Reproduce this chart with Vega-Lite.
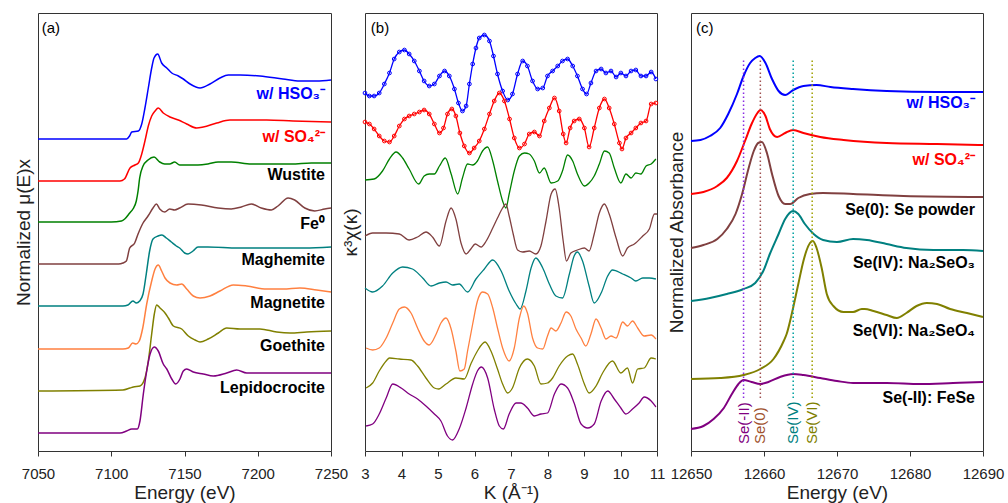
{
  "$schema": "https://vega.github.io/schema/vega-lite/v6.json",
  "padding": {"left": 13, "top": 12, "right": 5, "bottom": 0},
  "bounds": "flush",
  "spacing": 34,
  "config": {
    "font": "Liberation Sans",
    "view": {"stroke": "#333", "strokeWidth": 1},
    "axis": {"grid": false, "domain": false, "labelFont": "Liberation Sans", "titleFont": "Liberation Sans", "labelColor": "#222", "titleColor": "#222", "titleFontWeight": "normal", "titleFontSize": 19, "labelFontSize": 15, "labelBound": false},
    "axisX": {"tickColor": "#333", "tickSize": 5, "labelPadding": 10, "titlePadding": 2, "labelFlush": false},
    "axisY": {"ticks": false, "labels": false, "titlePadding": 5}
  },
  "datasets": {
    "fe": [
      {"s":"HSO3","x":7050,"y":3.12},{"s":"HSO3","x":7080,"y":3.12},{"s":"HSO3","x":7105,"y":3.12},{"s":"HSO3","x":7110.5,"y":3.12},{"s":"HSO3","x":7112.5,"y":3.15},{"s":"HSO3","x":7114,"y":3.19},{"s":"HSO3","x":7118.5,"y":3.2},{"s":"HSO3","x":7120.8,"y":3.27},{"s":"HSO3","x":7123,"y":3.43},{"s":"HSO3","x":7125.3,"y":3.63},{"s":"HSO3","x":7127.6,"y":3.83},{"s":"HSO3","x":7129.2,"y":3.93},{"s":"HSO3","x":7131.7,"y":3.97},{"s":"HSO3","x":7134.4,"y":3.88},{"s":"HSO3","x":7137.9,"y":3.83},{"s":"HSO3","x":7141.3,"y":3.78},{"s":"HSO3","x":7145.8,"y":3.75},{"s":"HSO3","x":7149.2,"y":3.72},{"s":"HSO3","x":7153.8,"y":3.67},{"s":"HSO3","x":7160.6,"y":3.63},{"s":"HSO3","x":7167.4,"y":3.67},{"s":"HSO3","x":7174.2,"y":3.73},{"s":"HSO3","x":7179.9,"y":3.76},{"s":"HSO3","x":7187.9,"y":3.76},{"s":"HSO3","x":7201.5,"y":3.75},{"s":"HSO3","x":7217.2,"y":3.72},{"s":"HSO3","x":7228.8,"y":3.7},{"s":"HSO3","x":7240.2,"y":3.7},{"s":"HSO3","x":7250,"y":3.71},
      {"s":"SO4","x":7050,"y":2.7},{"s":"SO4","x":7106,"y":2.7},{"s":"SO4","x":7109,"y":2.72},{"s":"SO4","x":7112.8,"y":2.83},{"s":"SO4","x":7116.2,"y":2.86},{"s":"SO4","x":7118.5,"y":2.88},{"s":"SO4","x":7120.8,"y":2.97},{"s":"SO4","x":7123,"y":3.1},{"s":"SO4","x":7125.3,"y":3.25},{"s":"SO4","x":7127.6,"y":3.35},{"s":"SO4","x":7129.9,"y":3.4},{"s":"SO4","x":7132.1,"y":3.43},{"s":"SO4","x":7135.5,"y":3.38},{"s":"SO4","x":7140.1,"y":3.34},{"s":"SO4","x":7145.8,"y":3.31},{"s":"SO4","x":7151.5,"y":3.27},{"s":"SO4","x":7158.3,"y":3.23},{"s":"SO4","x":7162.8,"y":3.24},{"s":"SO4","x":7172,"y":3.28},{"s":"SO4","x":7181,"y":3.31},{"s":"SO4","x":7187.9,"y":3.31},{"s":"SO4","x":7206.1,"y":3.31},{"s":"SO4","x":7224.1,"y":3.3},{"s":"SO4","x":7250,"y":3.29},
      {"s":"Wustite","x":7050,"y":2.29},{"s":"Wustite","x":7100,"y":2.29},{"s":"Wustite","x":7107,"y":2.3},{"s":"Wustite","x":7109.2,"y":2.32},{"s":"Wustite","x":7112.6,"y":2.38},{"s":"Wustite","x":7114.8,"y":2.42},{"s":"Wustite","x":7117.1,"y":2.5},{"s":"Wustite","x":7118.3,"y":2.6},{"s":"Wustite","x":7119.4,"y":2.73},{"s":"Wustite","x":7121.7,"y":2.85},{"s":"Wustite","x":7125.1,"y":2.91},{"s":"Wustite","x":7129.2,"y":2.94},{"s":"Wustite","x":7133.1,"y":2.89},{"s":"Wustite","x":7136.5,"y":2.87},{"s":"Wustite","x":7139.9,"y":2.87},{"s":"Wustite","x":7143.3,"y":2.89},{"s":"Wustite","x":7146.7,"y":2.86},{"s":"Wustite","x":7152.4,"y":2.86},{"s":"Wustite","x":7159.2,"y":2.86},{"s":"Wustite","x":7166,"y":2.87},{"s":"Wustite","x":7172.9,"y":2.89},{"s":"Wustite","x":7181.9,"y":2.89},{"s":"Wustite","x":7195.6,"y":2.87},{"s":"Wustite","x":7209.3,"y":2.87},{"s":"Wustite","x":7222.9,"y":2.87},{"s":"Wustite","x":7236.6,"y":2.88},{"s":"Wustite","x":7250,"y":2.88},
      {"s":"Fe0","x":7050,"y":1.87},{"s":"Fe0","x":7105,"y":1.87},{"s":"Fe0","x":7108,"y":1.88},{"s":"Fe0","x":7110.3,"y":1.9},{"s":"Fe0","x":7112.6,"y":2.03},{"s":"Fe0","x":7116,"y":2.08},{"s":"Fe0","x":7118.3,"y":2.17},{"s":"Fe0","x":7121.7,"y":2.28},{"s":"Fe0","x":7125.1,"y":2.35},{"s":"Fe0","x":7128.5,"y":2.43},{"s":"Fe0","x":7130.8,"y":2.47},{"s":"Fe0","x":7133.1,"y":2.42},{"s":"Fe0","x":7136.5,"y":2.39},{"s":"Fe0","x":7139.9,"y":2.42},{"s":"Fe0","x":7143.3,"y":2.41},{"s":"Fe0","x":7146.7,"y":2.43},{"s":"Fe0","x":7152.4,"y":2.47},{"s":"Fe0","x":7161.5,"y":2.46},{"s":"Fe0","x":7172.9,"y":2.43},{"s":"Fe0","x":7181.9,"y":2.42},{"s":"Fe0","x":7188.8,"y":2.44},{"s":"Fe0","x":7195.6,"y":2.47},{"s":"Fe0","x":7202.4,"y":2.43},{"s":"Fe0","x":7209.3,"y":2.41},{"s":"Fe0","x":7213.8,"y":2.45},{"s":"Fe0","x":7220.7,"y":2.53},{"s":"Fe0","x":7225.2,"y":2.51},{"s":"Fe0","x":7232.1,"y":2.43},{"s":"Fe0","x":7238.9,"y":2.4},{"s":"Fe0","x":7245.7,"y":2.42},{"s":"Fe0","x":7250,"y":2.43},
      {"s":"Maghemite","x":7050,"y":1.45},{"s":"Maghemite","x":7108,"y":1.45},{"s":"Maghemite","x":7111.4,"y":1.46},{"s":"Maghemite","x":7114.8,"y":1.5},{"s":"Maghemite","x":7117.1,"y":1.48},{"s":"Maghemite","x":7119.4,"y":1.5},{"s":"Maghemite","x":7121.7,"y":1.57},{"s":"Maghemite","x":7123.9,"y":1.77},{"s":"Maghemite","x":7126.2,"y":2.0},{"s":"Maghemite","x":7128.5,"y":2.12},{"s":"Maghemite","x":7131.9,"y":2.15},{"s":"Maghemite","x":7134.6,"y":2.16},{"s":"Maghemite","x":7137.6,"y":2.13},{"s":"Maghemite","x":7141,"y":2.09},{"s":"Maghemite","x":7144.4,"y":2.05},{"s":"Maghemite","x":7146.7,"y":2.03},{"s":"Maghemite","x":7150.1,"y":1.98},{"s":"Maghemite","x":7152.4,"y":1.97},{"s":"Maghemite","x":7155.8,"y":2.0},{"s":"Maghemite","x":7159.2,"y":2.04},{"s":"Maghemite","x":7166,"y":2.04},{"s":"Maghemite","x":7186.5,"y":2.03},{"s":"Maghemite","x":7209.3,"y":2.03},{"s":"Maghemite","x":7232.1,"y":2.03},{"s":"Maghemite","x":7250,"y":2.04},
      {"s":"Magnetite","x":7050,"y":1.02},{"s":"Magnetite","x":7108,"y":1.02},{"s":"Magnetite","x":7111.6,"y":1.03},{"s":"Magnetite","x":7114.6,"y":1.08},{"s":"Magnetite","x":7116.9,"y":1.07},{"s":"Magnetite","x":7119.1,"y":1.1},{"s":"Magnetite","x":7121.5,"y":1.23},{"s":"Magnetite","x":7124.2,"y":1.47},{"s":"Magnetite","x":7127.6,"y":1.7},{"s":"Magnetite","x":7129.9,"y":1.82},{"s":"Magnetite","x":7132.1,"y":1.86},{"s":"Magnetite","x":7134.4,"y":1.8},{"s":"Magnetite","x":7136.7,"y":1.73},{"s":"Magnetite","x":7140.1,"y":1.68},{"s":"Magnetite","x":7144.7,"y":1.66},{"s":"Magnetite","x":7148.1,"y":1.67},{"s":"Magnetite","x":7151.5,"y":1.62},{"s":"Magnetite","x":7156,"y":1.55},{"s":"Magnetite","x":7160.6,"y":1.53},{"s":"Magnetite","x":7167.4,"y":1.55},{"s":"Magnetite","x":7174.2,"y":1.6},{"s":"Magnetite","x":7183.3,"y":1.66},{"s":"Magnetite","x":7192.5,"y":1.65},{"s":"Magnetite","x":7206.1,"y":1.62},{"s":"Magnetite","x":7217.4,"y":1.62},{"s":"Magnetite","x":7228.8,"y":1.63},{"s":"Magnetite","x":7240.2,"y":1.61},{"s":"Magnetite","x":7250,"y":1.59},
      {"s":"Goethite","x":7050,"y":0.6},{"s":"Goethite","x":7108,"y":0.61},{"s":"Goethite","x":7112.8,"y":0.63},{"s":"Goethite","x":7115.1,"y":0.64},{"s":"Goethite","x":7119.6,"y":0.65},{"s":"Goethite","x":7123,"y":0.73},{"s":"Goethite","x":7125.3,"y":0.9},{"s":"Goethite","x":7127.6,"y":1.17},{"s":"Goethite","x":7129.4,"y":1.37},{"s":"Goethite","x":7131,"y":1.46},{"s":"Goethite","x":7133.3,"y":1.43},{"s":"Goethite","x":7136.7,"y":1.38},{"s":"Goethite","x":7139,"y":1.33},{"s":"Goethite","x":7142.4,"y":1.25},{"s":"Goethite","x":7148.1,"y":1.22},{"s":"Goethite","x":7152.6,"y":1.15},{"s":"Goethite","x":7157.2,"y":1.11},{"s":"Goethite","x":7160.6,"y":1.09},{"s":"Goethite","x":7166.2,"y":1.12},{"s":"Goethite","x":7173.1,"y":1.18},{"s":"Goethite","x":7178.8,"y":1.23},{"s":"Goethite","x":7187.9,"y":1.22},{"s":"Goethite","x":7201.5,"y":1.22},{"s":"Goethite","x":7212.9,"y":1.19},{"s":"Goethite","x":7222,"y":1.18},{"s":"Goethite","x":7233.4,"y":1.19},{"s":"Goethite","x":7250,"y":1.2},
      {"s":"Lepidocrocite","x":7050,"y":0.18},{"s":"Lepidocrocite","x":7106,"y":0.18},{"s":"Lepidocrocite","x":7110.5,"y":0.2},{"s":"Lepidocrocite","x":7114,"y":0.22},{"s":"Lepidocrocite","x":7117.8,"y":0.22},{"s":"Lepidocrocite","x":7119.6,"y":0.3},{"s":"Lepidocrocite","x":7121.9,"y":0.57},{"s":"Lepidocrocite","x":7124.2,"y":0.8},{"s":"Lepidocrocite","x":7126.5,"y":0.97},{"s":"Lepidocrocite","x":7129.4,"y":1.04},{"s":"Lepidocrocite","x":7132.1,"y":1.0},{"s":"Lepidocrocite","x":7135.5,"y":0.87},{"s":"Lepidocrocite","x":7137.9,"y":0.82},{"s":"Lepidocrocite","x":7141.3,"y":0.72},{"s":"Lepidocrocite","x":7144,"y":0.67},{"s":"Lepidocrocite","x":7146.9,"y":0.72},{"s":"Lepidocrocite","x":7149.2,"y":0.8},{"s":"Lepidocrocite","x":7151.5,"y":0.82},{"s":"Lepidocrocite","x":7156,"y":0.79},{"s":"Lepidocrocite","x":7162.8,"y":0.77},{"s":"Lepidocrocite","x":7169.7,"y":0.75},{"s":"Lepidocrocite","x":7178.8,"y":0.78},{"s":"Lepidocrocite","x":7185.6,"y":0.81},{"s":"Lepidocrocite","x":7192.5,"y":0.78},{"s":"Lepidocrocite","x":7206.1,"y":0.78},{"s":"Lepidocrocite","x":7228.8,"y":0.78},{"s":"Lepidocrocite","x":7250,"y":0.78}
    ],
    "exafs": [
      {"s":"HSO3","x":3.0,"y":3.58},{"s":"HSO3","x":3.12,"y":3.55},{"s":"HSO3","x":3.25,"y":3.55},{"s":"HSO3","x":3.39,"y":3.58},{"s":"HSO3","x":3.53,"y":3.67},{"s":"HSO3","x":3.67,"y":3.78},{"s":"HSO3","x":3.8,"y":3.92},{"s":"HSO3","x":3.94,"y":3.99},{"s":"HSO3","x":4.08,"y":4.01},{"s":"HSO3","x":4.21,"y":3.97},{"s":"HSO3","x":4.35,"y":3.9},{"s":"HSO3","x":4.49,"y":3.8},{"s":"HSO3","x":4.62,"y":3.7},{"s":"HSO3","x":4.76,"y":3.65},{"s":"HSO3","x":4.9,"y":3.67},{"s":"HSO3","x":5.04,"y":3.75},{"s":"HSO3","x":5.18,"y":3.8},{"s":"HSO3","x":5.31,"y":3.75},{"s":"HSO3","x":5.45,"y":3.62},{"s":"HSO3","x":5.56,"y":3.48},{"s":"HSO3","x":5.67,"y":3.4},{"s":"HSO3","x":5.77,"y":3.45},{"s":"HSO3","x":5.86,"y":3.67},{"s":"HSO3","x":5.95,"y":3.87},{"s":"HSO3","x":6.04,"y":4.03},{"s":"HSO3","x":6.13,"y":4.13},{"s":"HSO3","x":6.27,"y":4.16},{"s":"HSO3","x":6.41,"y":4.1},{"s":"HSO3","x":6.52,"y":3.95},{"s":"HSO3","x":6.63,"y":3.77},{"s":"HSO3","x":6.77,"y":3.6},{"s":"HSO3","x":6.91,"y":3.51},{"s":"HSO3","x":7.04,"y":3.57},{"s":"HSO3","x":7.18,"y":3.77},{"s":"HSO3","x":7.32,"y":3.9},{"s":"HSO3","x":7.45,"y":3.85},{"s":"HSO3","x":7.59,"y":3.7},{"s":"HSO3","x":7.73,"y":3.62},{"s":"HSO3","x":7.87,"y":3.63},{"s":"HSO3","x":8.0,"y":3.75},{"s":"HSO3","x":8.14,"y":3.8},{"s":"HSO3","x":8.28,"y":3.85},{"s":"HSO3","x":8.41,"y":3.9},{"s":"HSO3","x":8.55,"y":3.92},{"s":"HSO3","x":8.69,"y":3.85},{"s":"HSO3","x":8.82,"y":3.75},{"s":"HSO3","x":8.96,"y":3.62},{"s":"HSO3","x":9.07,"y":3.57},{"s":"HSO3","x":9.19,"y":3.68},{"s":"HSO3","x":9.33,"y":3.8},{"s":"HSO3","x":9.47,"y":3.82},{"s":"HSO3","x":9.6,"y":3.78},{"s":"HSO3","x":9.74,"y":3.8},{"s":"HSO3","x":9.88,"y":3.74},{"s":"HSO3","x":10.01,"y":3.78},{"s":"HSO3","x":10.15,"y":3.75},{"s":"HSO3","x":10.29,"y":3.8},{"s":"HSO3","x":10.42,"y":3.81},{"s":"HSO3","x":10.56,"y":3.75},{"s":"HSO3","x":10.7,"y":3.75},{"s":"HSO3","x":10.84,"y":3.79},{"s":"HSO3","x":10.97,"y":3.72},
      {"s":"SO4","x":3.0,"y":3.29},{"s":"SO4","x":3.12,"y":3.27},{"s":"SO4","x":3.25,"y":3.22},{"s":"SO4","x":3.39,"y":3.15},{"s":"SO4","x":3.53,"y":3.1},{"s":"SO4","x":3.67,"y":3.09},{"s":"SO4","x":3.8,"y":3.15},{"s":"SO4","x":3.94,"y":3.25},{"s":"SO4","x":4.08,"y":3.32},{"s":"SO4","x":4.21,"y":3.35},{"s":"SO4","x":4.35,"y":3.37},{"s":"SO4","x":4.49,"y":3.39},{"s":"SO4","x":4.62,"y":3.41},{"s":"SO4","x":4.76,"y":3.37},{"s":"SO4","x":4.9,"y":3.27},{"s":"SO4","x":5.04,"y":3.18},{"s":"SO4","x":5.15,"y":3.23},{"s":"SO4","x":5.26,"y":3.37},{"s":"SO4","x":5.38,"y":3.42},{"s":"SO4","x":5.49,"y":3.35},{"s":"SO4","x":5.6,"y":3.18},{"s":"SO4","x":5.72,"y":3.05},{"s":"SO4","x":5.86,"y":2.98},{"s":"SO4","x":5.99,"y":3.03},{"s":"SO4","x":6.13,"y":3.1},{"s":"SO4","x":6.27,"y":3.22},{"s":"SO4","x":6.41,"y":3.37},{"s":"SO4","x":6.54,"y":3.5},{"s":"SO4","x":6.68,"y":3.58},{"s":"SO4","x":6.82,"y":3.5},{"s":"SO4","x":6.96,"y":3.32},{"s":"SO4","x":7.09,"y":3.13},{"s":"SO4","x":7.23,"y":3.03},{"s":"SO4","x":7.37,"y":3.07},{"s":"SO4","x":7.5,"y":3.17},{"s":"SO4","x":7.64,"y":3.19},{"s":"SO4","x":7.78,"y":3.15},{"s":"SO4","x":7.91,"y":3.3},{"s":"SO4","x":8.05,"y":3.43},{"s":"SO4","x":8.19,"y":3.53},{"s":"SO4","x":8.32,"y":3.4},{"s":"SO4","x":8.43,"y":3.17},{"s":"SO4","x":8.51,"y":3.08},{"s":"SO4","x":8.62,"y":3.23},{"s":"SO4","x":8.73,"y":3.3},{"s":"SO4","x":8.87,"y":3.32},{"s":"SO4","x":9.01,"y":3.23},{"s":"SO4","x":9.14,"y":3.04},{"s":"SO4","x":9.28,"y":3.23},{"s":"SO4","x":9.42,"y":3.43},{"s":"SO4","x":9.56,"y":3.52},{"s":"SO4","x":9.69,"y":3.43},{"s":"SO4","x":9.83,"y":3.27},{"s":"SO4","x":9.97,"y":3.08},{"s":"SO4","x":10.04,"y":3.02},{"s":"SO4","x":10.15,"y":3.13},{"s":"SO4","x":10.29,"y":3.18},{"s":"SO4","x":10.42,"y":3.23},{"s":"SO4","x":10.56,"y":3.28},{"s":"SO4","x":10.7,"y":3.3},{"s":"SO4","x":10.84,"y":3.47},{"s":"SO4","x":10.97,"y":3.48},
      {"s":"Wustite","x":3.0,"y":2.71},{"s":"Wustite","x":3.25,"y":2.72},{"s":"Wustite","x":3.48,"y":2.8},{"s":"Wustite","x":3.67,"y":2.92},{"s":"Wustite","x":3.85,"y":2.99},{"s":"Wustite","x":4.03,"y":2.93},{"s":"Wustite","x":4.21,"y":2.82},{"s":"Wustite","x":4.47,"y":2.67},{"s":"Wustite","x":4.62,"y":2.75},{"s":"Wustite","x":4.76,"y":2.77},{"s":"Wustite","x":4.9,"y":2.77},{"s":"Wustite","x":5.04,"y":2.85},{"s":"Wustite","x":5.2,"y":2.93},{"s":"Wustite","x":5.36,"y":2.77},{"s":"Wustite","x":5.54,"y":2.57},{"s":"Wustite","x":5.67,"y":2.73},{"s":"Wustite","x":5.81,"y":2.87},{"s":"Wustite","x":5.95,"y":2.86},{"s":"Wustite","x":6.08,"y":2.9},{"s":"Wustite","x":6.22,"y":3.0},{"s":"Wustite","x":6.36,"y":3.04},{"s":"Wustite","x":6.5,"y":2.9},{"s":"Wustite","x":6.63,"y":2.7},{"s":"Wustite","x":6.77,"y":2.5},{"s":"Wustite","x":6.86,"y":2.43},{"s":"Wustite","x":6.95,"y":2.57},{"s":"Wustite","x":7.09,"y":2.8},{"s":"Wustite","x":7.23,"y":2.95},{"s":"Wustite","x":7.37,"y":2.98},{"s":"Wustite","x":7.5,"y":2.97},{"s":"Wustite","x":7.64,"y":2.9},{"s":"Wustite","x":7.78,"y":2.78},{"s":"Wustite","x":7.91,"y":2.83},{"s":"Wustite","x":8.1,"y":2.68},{"s":"Wustite","x":8.28,"y":2.7},{"s":"Wustite","x":8.41,"y":2.8},{"s":"Wustite","x":8.55,"y":2.96},{"s":"Wustite","x":8.69,"y":2.9},{"s":"Wustite","x":8.82,"y":2.77},{"s":"Wustite","x":9.01,"y":2.65},{"s":"Wustite","x":9.14,"y":2.68},{"s":"Wustite","x":9.28,"y":2.75},{"s":"Wustite","x":9.42,"y":2.87},{"s":"Wustite","x":9.56,"y":3.0},{"s":"Wustite","x":9.69,"y":2.98},{"s":"Wustite","x":9.83,"y":2.83},{"s":"Wustite","x":10.01,"y":2.68},{"s":"Wustite","x":10.15,"y":2.77},{"s":"Wustite","x":10.29,"y":2.73},{"s":"Wustite","x":10.42,"y":2.78},{"s":"Wustite","x":10.56,"y":2.77},{"s":"Wustite","x":10.7,"y":2.85},{"s":"Wustite","x":10.84,"y":2.87},{"s":"Wustite","x":10.97,"y":2.92},
      {"s":"Fe0","x":3.0,"y":2.15},{"s":"Fe0","x":3.21,"y":2.18},{"s":"Fe0","x":3.58,"y":2.18},{"s":"Fe0","x":3.94,"y":2.17},{"s":"Fe0","x":4.21,"y":2.11},{"s":"Fe0","x":4.44,"y":2.14},{"s":"Fe0","x":4.67,"y":2.19},{"s":"Fe0","x":4.85,"y":2.14},{"s":"Fe0","x":5.04,"y":2.05},{"s":"Fe0","x":5.22,"y":2.3},{"s":"Fe0","x":5.36,"y":2.43},{"s":"Fe0","x":5.49,"y":2.32},{"s":"Fe0","x":5.63,"y":2.08},{"s":"Fe0","x":5.77,"y":1.97},{"s":"Fe0","x":5.9,"y":2.02},{"s":"Fe0","x":6.02,"y":2.07},{"s":"Fe0","x":6.18,"y":2.04},{"s":"Fe0","x":6.32,"y":2.1},{"s":"Fe0","x":6.5,"y":2.23},{"s":"Fe0","x":6.63,"y":2.33},{"s":"Fe0","x":6.77,"y":2.43},{"s":"Fe0","x":6.86,"y":2.47},{"s":"Fe0","x":6.95,"y":2.35},{"s":"Fe0","x":7.06,"y":2.17},{"s":"Fe0","x":7.18,"y":2.01},{"s":"Fe0","x":7.32,"y":1.99},{"s":"Fe0","x":7.5,"y":2.0},{"s":"Fe0","x":7.68,"y":1.97},{"s":"Fe0","x":7.82,"y":2.05},{"s":"Fe0","x":7.96,"y":2.3},{"s":"Fe0","x":8.1,"y":2.57},{"s":"Fe0","x":8.21,"y":2.62},{"s":"Fe0","x":8.32,"y":2.43},{"s":"Fe0","x":8.43,"y":2.1},{"s":"Fe0","x":8.52,"y":1.9},{"s":"Fe0","x":8.64,"y":1.98},{"s":"Fe0","x":8.82,"y":2.01},{"s":"Fe0","x":9.01,"y":2.03},{"s":"Fe0","x":9.14,"y":2.0},{"s":"Fe0","x":9.28,"y":2.17},{"s":"Fe0","x":9.42,"y":2.38},{"s":"Fe0","x":9.56,"y":2.47},{"s":"Fe0","x":9.69,"y":2.37},{"s":"Fe0","x":9.88,"y":2.13},{"s":"Fe0","x":10.06,"y":1.95},{"s":"Fe0","x":10.19,"y":2.03},{"s":"Fe0","x":10.38,"y":2.07},{"s":"Fe0","x":10.61,"y":2.15},{"s":"Fe0","x":10.79,"y":2.22},{"s":"Fe0","x":10.93,"y":2.37},{"s":"Fe0","x":11.0,"y":2.37},
      {"s":"Maghemite","x":3.0,"y":1.63},{"s":"Maghemite","x":3.21,"y":1.59},{"s":"Maghemite","x":3.48,"y":1.65},{"s":"Maghemite","x":3.76,"y":1.78},{"s":"Maghemite","x":4.03,"y":1.84},{"s":"Maghemite","x":4.3,"y":1.82},{"s":"Maghemite","x":4.58,"y":1.73},{"s":"Maghemite","x":4.81,"y":1.65},{"s":"Maghemite","x":5.04,"y":1.68},{"s":"Maghemite","x":5.22,"y":1.69},{"s":"Maghemite","x":5.4,"y":1.66},{"s":"Maghemite","x":5.58,"y":1.67},{"s":"Maghemite","x":5.81,"y":1.59},{"s":"Maghemite","x":6.04,"y":1.72},{"s":"Maghemite","x":6.27,"y":1.82},{"s":"Maghemite","x":6.5,"y":1.91},{"s":"Maghemite","x":6.73,"y":1.8},{"s":"Maghemite","x":6.95,"y":1.6},{"s":"Maghemite","x":7.14,"y":1.47},{"s":"Maghemite","x":7.25,"y":1.42},{"s":"Maghemite","x":7.41,"y":1.6},{"s":"Maghemite","x":7.55,"y":1.83},{"s":"Maghemite","x":7.68,"y":1.93},{"s":"Maghemite","x":7.87,"y":1.83},{"s":"Maghemite","x":8.05,"y":1.67},{"s":"Maghemite","x":8.23,"y":1.55},{"s":"Maghemite","x":8.41,"y":1.53},{"s":"Maghemite","x":8.6,"y":1.77},{"s":"Maghemite","x":8.73,"y":1.95},{"s":"Maghemite","x":8.82,"y":1.99},{"s":"Maghemite","x":8.96,"y":1.9},{"s":"Maghemite","x":9.14,"y":1.65},{"s":"Maghemite","x":9.28,"y":1.48},{"s":"Maghemite","x":9.47,"y":1.58},{"s":"Maghemite","x":9.65,"y":1.75},{"s":"Maghemite","x":9.78,"y":1.81},{"s":"Maghemite","x":10.06,"y":1.77},{"s":"Maghemite","x":10.29,"y":1.73},{"s":"Maghemite","x":10.42,"y":1.7},{"s":"Maghemite","x":10.61,"y":1.73},{"s":"Maghemite","x":10.79,"y":1.73},{"s":"Maghemite","x":10.97,"y":1.72},
      {"s":"Magnetite","x":3.03,"y":1.03},{"s":"Magnetite","x":3.21,"y":1.01},{"s":"Magnetite","x":3.39,"y":1.03},{"s":"Magnetite","x":3.58,"y":1.13},{"s":"Magnetite","x":3.76,"y":1.28},{"s":"Magnetite","x":3.94,"y":1.42},{"s":"Magnetite","x":4.08,"y":1.44},{"s":"Magnetite","x":4.26,"y":1.38},{"s":"Magnetite","x":4.44,"y":1.23},{"s":"Magnetite","x":4.62,"y":1.1},{"s":"Magnetite","x":4.76,"y":1.06},{"s":"Magnetite","x":4.95,"y":1.17},{"s":"Magnetite","x":5.08,"y":1.28},{"s":"Magnetite","x":5.22,"y":1.33},{"s":"Magnetite","x":5.36,"y":1.22},{"s":"Magnetite","x":5.49,"y":1.0},{"s":"Magnetite","x":5.6,"y":0.8},{"s":"Magnetite","x":5.72,"y":0.82},{"s":"Magnetite","x":5.81,"y":1.0},{"s":"Magnetite","x":5.95,"y":1.27},{"s":"Magnetite","x":6.08,"y":1.5},{"s":"Magnetite","x":6.22,"y":1.59},{"s":"Magnetite","x":6.36,"y":1.57},{"s":"Magnetite","x":6.5,"y":1.43},{"s":"Magnetite","x":6.63,"y":1.23},{"s":"Magnetite","x":6.77,"y":1.03},{"s":"Magnetite","x":6.95,"y":0.9},{"s":"Magnetite","x":7.09,"y":1.03},{"s":"Magnetite","x":7.23,"y":1.33},{"s":"Magnetite","x":7.35,"y":1.45},{"s":"Magnetite","x":7.45,"y":1.38},{"s":"Magnetite","x":7.59,"y":1.13},{"s":"Magnetite","x":7.73,"y":1.03},{"s":"Magnetite","x":7.87,"y":1.02},{"s":"Magnetite","x":8.0,"y":1.15},{"s":"Magnetite","x":8.1,"y":1.23},{"s":"Magnetite","x":8.23,"y":1.2},{"s":"Magnetite","x":8.37,"y":1.28},{"s":"Magnetite","x":8.51,"y":1.39},{"s":"Magnetite","x":8.64,"y":1.35},{"s":"Magnetite","x":8.78,"y":1.22},{"s":"Magnetite","x":8.92,"y":1.13},{"s":"Magnetite","x":9.05,"y":1.05},{"s":"Magnetite","x":9.19,"y":1.17},{"s":"Magnetite","x":9.33,"y":1.32},{"s":"Magnetite","x":9.47,"y":1.23},{"s":"Magnetite","x":9.6,"y":1.12},{"s":"Magnetite","x":9.74,"y":1.15},{"s":"Magnetite","x":9.88,"y":1.13},{"s":"Magnetite","x":10.06,"y":1.29},{"s":"Magnetite","x":10.19,"y":1.25},{"s":"Magnetite","x":10.33,"y":1.3},{"s":"Magnetite","x":10.47,"y":1.23},{"s":"Magnetite","x":10.65,"y":1.15},{"s":"Magnetite","x":10.84,"y":1.16},{"s":"Magnetite","x":10.97,"y":1.12},
      {"s":"Goethite","x":3.03,"y":0.63},{"s":"Goethite","x":3.21,"y":0.68},{"s":"Goethite","x":3.39,"y":0.8},{"s":"Goethite","x":3.58,"y":0.9},{"s":"Goethite","x":3.67,"y":0.93},{"s":"Goethite","x":3.94,"y":0.92},{"s":"Goethite","x":4.26,"y":0.91},{"s":"Goethite","x":4.44,"y":0.85},{"s":"Goethite","x":4.67,"y":0.73},{"s":"Goethite","x":4.9,"y":0.63},{"s":"Goethite","x":5.02,"y":0.62},{"s":"Goethite","x":5.22,"y":0.67},{"s":"Goethite","x":5.49,"y":0.73},{"s":"Goethite","x":5.72,"y":0.72},{"s":"Goethite","x":5.9,"y":0.87},{"s":"Goethite","x":6.08,"y":1.0},{"s":"Goethite","x":6.29,"y":1.09},{"s":"Goethite","x":6.45,"y":1.0},{"s":"Goethite","x":6.63,"y":0.82},{"s":"Goethite","x":6.77,"y":0.67},{"s":"Goethite","x":6.91,"y":0.58},{"s":"Goethite","x":7.04,"y":0.63},{"s":"Goethite","x":7.23,"y":0.83},{"s":"Goethite","x":7.45,"y":0.92},{"s":"Goethite","x":7.64,"y":0.85},{"s":"Goethite","x":7.82,"y":0.67},{"s":"Goethite","x":8.0,"y":0.68},{"s":"Goethite","x":8.14,"y":0.73},{"s":"Goethite","x":8.32,"y":0.85},{"s":"Goethite","x":8.55,"y":0.95},{"s":"Goethite","x":8.69,"y":0.97},{"s":"Goethite","x":8.82,"y":0.87},{"s":"Goethite","x":9.01,"y":0.67},{"s":"Goethite","x":9.14,"y":0.58},{"s":"Goethite","x":9.33,"y":0.65},{"s":"Goethite","x":9.51,"y":0.78},{"s":"Goethite","x":9.78,"y":0.9},{"s":"Goethite","x":10.01,"y":0.78},{"s":"Goethite","x":10.19,"y":0.83},{"s":"Goethite","x":10.33,"y":0.68},{"s":"Goethite","x":10.47,"y":0.82},{"s":"Goethite","x":10.65,"y":0.83},{"s":"Goethite","x":10.84,"y":0.93},{"s":"Goethite","x":10.97,"y":0.92},
      {"s":"Lepidocrocite","x":3.03,"y":0.25},{"s":"Lepidocrocite","x":3.21,"y":0.27},{"s":"Lepidocrocite","x":3.39,"y":0.37},{"s":"Lepidocrocite","x":3.58,"y":0.53},{"s":"Lepidocrocite","x":3.76,"y":0.67},{"s":"Lepidocrocite","x":3.99,"y":0.63},{"s":"Lepidocrocite","x":4.21,"y":0.57},{"s":"Lepidocrocite","x":4.44,"y":0.52},{"s":"Lepidocrocite","x":4.67,"y":0.45},{"s":"Lepidocrocite","x":4.9,"y":0.37},{"s":"Lepidocrocite","x":5.08,"y":0.3},{"s":"Lepidocrocite","x":5.26,"y":0.15},{"s":"Lepidocrocite","x":5.4,"y":0.11},{"s":"Lepidocrocite","x":5.58,"y":0.22},{"s":"Lepidocrocite","x":5.77,"y":0.43},{"s":"Lepidocrocite","x":5.95,"y":0.67},{"s":"Lepidocrocite","x":6.08,"y":0.8},{"s":"Lepidocrocite","x":6.19,"y":0.84},{"s":"Lepidocrocite","x":6.36,"y":0.73},{"s":"Lepidocrocite","x":6.54,"y":0.42},{"s":"Lepidocrocite","x":6.68,"y":0.25},{"s":"Lepidocrocite","x":6.79,"y":0.22},{"s":"Lepidocrocite","x":6.95,"y":0.37},{"s":"Lepidocrocite","x":7.14,"y":0.48},{"s":"Lepidocrocite","x":7.27,"y":0.48},{"s":"Lepidocrocite","x":7.45,"y":0.43},{"s":"Lepidocrocite","x":7.64,"y":0.35},{"s":"Lepidocrocite","x":7.82,"y":0.37},{"s":"Lepidocrocite","x":8.0,"y":0.38},{"s":"Lepidocrocite","x":8.19,"y":0.57},{"s":"Lepidocrocite","x":8.37,"y":0.67},{"s":"Lepidocrocite","x":8.55,"y":0.63},{"s":"Lepidocrocite","x":8.73,"y":0.48},{"s":"Lepidocrocite","x":8.92,"y":0.27},{"s":"Lepidocrocite","x":9.1,"y":0.23},{"s":"Lepidocrocite","x":9.28,"y":0.27},{"s":"Lepidocrocite","x":9.47,"y":0.5},{"s":"Lepidocrocite","x":9.65,"y":0.6},{"s":"Lepidocrocite","x":9.83,"y":0.52},{"s":"Lepidocrocite","x":10.01,"y":0.43},{"s":"Lepidocrocite","x":10.15,"y":0.37},{"s":"Lepidocrocite","x":10.33,"y":0.42},{"s":"Lepidocrocite","x":10.51,"y":0.48},{"s":"Lepidocrocite","x":10.65,"y":0.54},{"s":"Lepidocrocite","x":10.84,"y":0.5},{"s":"Lepidocrocite","x":10.97,"y":0.44}
    ],
    "se": [
      {"s":"HSO3","x":12650,"y":3.1},{"s":"HSO3","x":12651.3,"y":3.11},{"s":"HSO3","x":12652.6,"y":3.15},{"s":"HSO3","x":12654,"y":3.23},{"s":"HSO3","x":12655.1,"y":3.37},{"s":"HSO3","x":12656.3,"y":3.57},{"s":"HSO3","x":12657.2,"y":3.75},{"s":"HSO3","x":12658.1,"y":3.88},{"s":"HSO3","x":12658.8,"y":3.93},{"s":"HSO3","x":12659.4,"y":3.95},{"s":"HSO3","x":12660.2,"y":3.88},{"s":"HSO3","x":12661.1,"y":3.72},{"s":"HSO3","x":12662,"y":3.6},{"s":"HSO3","x":12662.9,"y":3.56},{"s":"HSO3","x":12664,"y":3.61},{"s":"HSO3","x":12665.4,"y":3.65},{"s":"HSO3","x":12667.2,"y":3.66},{"s":"HSO3","x":12669.1,"y":3.64},{"s":"HSO3","x":12672.2,"y":3.62},{"s":"HSO3","x":12676.8,"y":3.6},{"s":"HSO3","x":12683.7,"y":3.59},{"s":"HSO3","x":12690,"y":3.59},
      {"s":"SO4","x":12650,"y":2.57},{"s":"SO4","x":12651.7,"y":2.59},{"s":"SO4","x":12653.6,"y":2.65},{"s":"SO4","x":12654.9,"y":2.73},{"s":"SO4","x":12656.3,"y":2.9},{"s":"SO4","x":12657.4,"y":3.1},{"s":"SO4","x":12658.3,"y":3.27},{"s":"SO4","x":12659.1,"y":3.38},{"s":"SO4","x":12659.5,"y":3.41},{"s":"SO4","x":12660.2,"y":3.35},{"s":"SO4","x":12660.8,"y":3.22},{"s":"SO4","x":12661.8,"y":3.14},{"s":"SO4","x":12662.9,"y":3.18},{"s":"SO4","x":12664,"y":3.21},{"s":"SO4","x":12665.4,"y":3.18},{"s":"SO4","x":12667.7,"y":3.14},{"s":"SO4","x":12670.9,"y":3.11},{"s":"SO4","x":12676.8,"y":3.08},{"s":"SO4","x":12683.7,"y":3.07},{"s":"SO4","x":12690,"y":3.06},
      {"s":"Se","x":12650,"y":2.03},{"s":"Se","x":12651.7,"y":2.06},{"s":"Se","x":12653.6,"y":2.12},{"s":"Se","x":12654.9,"y":2.22},{"s":"Se","x":12656.1,"y":2.37},{"s":"Se","x":12657,"y":2.57},{"s":"Se","x":12657.9,"y":2.83},{"s":"Se","x":12658.6,"y":3.0},{"s":"Se","x":12659.2,"y":3.08},{"s":"Se","x":12659.7,"y":3.09},{"s":"Se","x":12660.4,"y":2.98},{"s":"Se","x":12661.1,"y":2.77},{"s":"Se","x":12662,"y":2.55},{"s":"Se","x":12662.9,"y":2.47},{"s":"Se","x":12663.6,"y":2.47},{"s":"Se","x":12664.7,"y":2.53},{"s":"Se","x":12666.3,"y":2.57},{"s":"Se","x":12668.1,"y":2.58},{"s":"Se","x":12672.2,"y":2.57},{"s":"Se","x":12679.1,"y":2.55},{"s":"Se","x":12690,"y":2.54},
      {"s":"SeO3","x":12650,"y":1.5},{"s":"SeO3","x":12652.6,"y":1.53},{"s":"SeO3","x":12654.9,"y":1.57},{"s":"SeO3","x":12657.2,"y":1.62},{"s":"SeO3","x":12658.8,"y":1.68},{"s":"SeO3","x":12659.9,"y":1.8},{"s":"SeO3","x":12660.8,"y":1.97},{"s":"SeO3","x":12662,"y":2.17},{"s":"SeO3","x":12662.9,"y":2.32},{"s":"SeO3","x":12664,"y":2.4},{"s":"SeO3","x":12664.7,"y":2.37},{"s":"SeO3","x":12665.6,"y":2.27},{"s":"SeO3","x":12666.8,"y":2.17},{"s":"SeO3","x":12668.1,"y":2.11},{"s":"SeO3","x":12670,"y":2.09},{"s":"SeO3","x":12672.2,"y":2.12},{"s":"SeO3","x":12674.1,"y":2.11},{"s":"SeO3","x":12676.8,"y":2.07},{"s":"SeO3","x":12679.5,"y":2.03},{"s":"SeO3","x":12683.2,"y":2.01},{"s":"SeO3","x":12687.3,"y":2.01},{"s":"SeO3","x":12690,"y":2.0},
      {"s":"SeO4","x":12650,"y":0.72},{"s":"SeO4","x":12654,"y":0.73},{"s":"SeO4","x":12657.2,"y":0.76},{"s":"SeO4","x":12659.5,"y":0.82},{"s":"SeO4","x":12661.3,"y":0.92},{"s":"SeO4","x":12662.7,"y":1.1},{"s":"SeO4","x":12663.1,"y":1.17},{"s":"SeO4","x":12663.8,"y":1.37},{"s":"SeO4","x":12664.7,"y":1.67},{"s":"SeO4","x":12665.4,"y":1.9},{"s":"SeO4","x":12665.8,"y":2.0},{"s":"SeO4","x":12666.3,"y":2.08},{"s":"SeO4","x":12666.7,"y":2.1},{"s":"SeO4","x":12667.2,"y":2.03},{"s":"SeO4","x":12667.9,"y":1.83},{"s":"SeO4","x":12668.6,"y":1.57},{"s":"SeO4","x":12669.5,"y":1.45},{"s":"SeO4","x":12670.9,"y":1.39},{"s":"SeO4","x":12672.2,"y":1.39},{"s":"SeO4","x":12673.4,"y":1.42},{"s":"SeO4","x":12673.8,"y":1.42},{"s":"SeO4","x":12675,"y":1.4},{"s":"SeO4","x":12676.8,"y":1.36},{"s":"SeO4","x":12678.2,"y":1.33},{"s":"SeO4","x":12679.5,"y":1.38},{"s":"SeO4","x":12680.9,"y":1.45},{"s":"SeO4","x":12682.3,"y":1.48},{"s":"SeO4","x":12683.7,"y":1.47},{"s":"SeO4","x":12685.5,"y":1.42},{"s":"SeO4","x":12687.8,"y":1.38},{"s":"SeO4","x":12690,"y":1.34},
      {"s":"FeSe","x":12650,"y":0.22},{"s":"FeSe","x":12651.7,"y":0.25},{"s":"FeSe","x":12653.1,"y":0.32},{"s":"FeSe","x":12654.5,"y":0.43},{"s":"FeSe","x":12655.6,"y":0.57},{"s":"FeSe","x":12656.5,"y":0.67},{"s":"FeSe","x":12657.2,"y":0.71},{"s":"FeSe","x":12658.3,"y":0.69},{"s":"FeSe","x":12659.5,"y":0.67},{"s":"FeSe","x":12660.6,"y":0.69},{"s":"FeSe","x":12662.2,"y":0.74},{"s":"FeSe","x":12664,"y":0.77},{"s":"FeSe","x":12665.4,"y":0.76},{"s":"FeSe","x":12667.7,"y":0.73},{"s":"FeSe","x":12670,"y":0.7},{"s":"FeSe","x":12672.2,"y":0.68},{"s":"FeSe","x":12676.8,"y":0.68},{"s":"FeSe","x":12681.4,"y":0.67},{"s":"FeSe","x":12685.9,"y":0.68},{"s":"FeSe","x":12690,"y":0.69}
    ]
  },
  "hconcat": [
    {
      "width": 293, "height": 438,
      "layer": [
        {
          "data": {"name": "fe"},
          "mark": {"type": "line", "strokeWidth": 1.5, "interpolate": "monotone"},
          "encoding": {
            "x": {"field": "x", "type": "quantitative", "scale": {"domain": [7050, 7250], "nice": false, "zero": false}, "axis": {"tickCount": 4, "format": "d", "title": "Energy (eV)", "labelOverlap": false}},
            "y": {"field": "y", "type": "quantitative", "scale": {"domain": [0, 4.38], "nice": false, "zero": false}, "axis": {"title": "Normalized μ(E)x"}},
            "color": {"field": "s", "type": "nominal", "legend": null, "scale": {"domain": ["HSO3","SO4","Wustite","Fe0","Maghemite","Magnetite","Goethite","Lepidocrocite"], "range": ["#0000ff","#ff0000","#008000","#804040","#008080","#ff8040","#808000","#800080"]}}
          }
        },
        {
          "data": {"values": [
            {"s": "HSO3", "t": "w/ HSO₃⁻", "x": 7245.9, "y": 3.57},
            {"s": "SO4", "t": "w/ SO₄²⁻", "x": 7245.9, "y": 3.14}
          ]},
          "mark": {"type": "text", "align": "right", "baseline": "middle", "fontSize": 16, "fontWeight": "bold", "font": "Liberation Sans"},
          "encoding": {
            "x": {"field": "x", "type": "quantitative", "scale": {"domain": [7050, 7250], "nice": false, "zero": false}},
            "y": {"field": "y", "type": "quantitative", "scale": {"domain": [0, 4.38], "nice": false, "zero": false}},
            "text": {"field": "t"},
            "color": {"field": "s", "type": "nominal", "legend": null, "scale": {"domain": ["HSO3","SO4","Wustite","Fe0","Maghemite","Magnetite","Goethite","Lepidocrocite"], "range": ["#0000ff","#ff0000","#008000","#804040","#008080","#ff8040","#808000","#800080"]}}
          }
        },
        {
          "data": {"values": [
            {"t": "Wustite", "x": 7245.9, "y": 2.76},
            {"t": "Fe⁰", "x": 7245.9, "y": 2.27},
            {"t": "Maghemite", "x": 7245.9, "y": 1.91},
            {"t": "Magnetite", "x": 7245.9, "y": 1.48},
            {"t": "Goethite", "x": 7245.9, "y": 1.05},
            {"t": "Lepidocrocite", "x": 7245.9, "y": 0.63}
          ]},
          "mark": {"type": "text", "align": "right", "baseline": "middle", "fontSize": 16, "fontWeight": "bold", "color": "#000", "font": "Liberation Sans"},
          "encoding": {
            "x": {"field": "x", "type": "quantitative", "scale": {"domain": [7050, 7250], "nice": false, "zero": false}},
            "y": {"field": "y", "type": "quantitative", "scale": {"domain": [0, 4.38], "nice": false, "zero": false}},
            "text": {"field": "t"}
          }
        },
        {
          "data": {"values": [{"t": "(a)", "x": 7052.5, "y": 4.23}]},
          "mark": {"type": "text", "align": "left", "baseline": "middle", "fontSize": 15, "color": "#000", "font": "Liberation Sans"},
          "encoding": {
            "x": {"field": "x", "type": "quantitative", "scale": {"domain": [7050, 7250], "nice": false, "zero": false}},
            "y": {"field": "y", "type": "quantitative", "scale": {"domain": [0, 4.38], "nice": false, "zero": false}},
            "text": {"field": "t"}
          }
        }
      ]
    },
    {
      "width": 292, "height": 438,
      "layer": [
        {
          "data": {"name": "exafs"},
          "mark": {"type": "line", "strokeWidth": 1.3, "interpolate": "monotone"},
          "encoding": {
            "x": {"field": "x", "type": "quantitative", "scale": {"domain": [3, 11], "nice": false, "zero": false}, "axis": {"tickCount": 8, "format": "d", "title": "K (Å⁻¹)", "labelOverlap": false}},
            "y": {"field": "y", "type": "quantitative", "scale": {"domain": [0, 4.38], "nice": false, "zero": false}, "axis": {"title": "κ³χ(κ)"}},
            "color": {"field": "s", "type": "nominal", "legend": null, "scale": {"domain": ["HSO3","SO4","Wustite","Fe0","Maghemite","Magnetite","Goethite","Lepidocrocite"], "range": ["#0000ff","#ff0000","#008000","#804040","#008080","#ff8040","#808000","#800080"]}}
          }
        },
        {
          "data": {"name": "exafs"},
          "transform": [{"filter": {"field": "s", "oneOf": ["HSO3", "SO4"]}}],
          "mark": {"type": "point", "shape": "circle", "filled": false, "size": 14, "strokeWidth": 1, "opacity": 1},
          "encoding": {
            "x": {"field": "x", "type": "quantitative", "scale": {"domain": [3, 11], "nice": false, "zero": false}, "axis": {"tickCount": 8, "format": "d", "title": "K (Å⁻¹)", "labelOverlap": false}},
            "y": {"field": "y", "type": "quantitative", "scale": {"domain": [0, 4.38], "nice": false, "zero": false}, "axis": {"title": "κ³χ(κ)"}},
            "color": {"field": "s", "type": "nominal", "legend": null, "scale": {"domain": ["HSO3","SO4","Wustite","Fe0","Maghemite","Magnetite","Goethite","Lepidocrocite"], "range": ["#0000ff","#ff0000","#008000","#804040","#008080","#ff8040","#808000","#800080"]}}
          }
        },
        {
          "data": {"values": [{"t": "(b)", "x": 3.16, "y": 4.23}]},
          "mark": {"type": "text", "align": "left", "baseline": "middle", "fontSize": 15, "color": "#000", "font": "Liberation Sans"},
          "encoding": {
            "x": {"field": "x", "type": "quantitative", "scale": {"domain": [3, 11], "nice": false, "zero": false}, "axis": {"tickCount": 8, "format": "d", "title": "K (Å⁻¹)", "labelOverlap": false}},
            "y": {"field": "y", "type": "quantitative", "scale": {"domain": [0, 4.38], "nice": false, "zero": false}, "axis": {"title": "κ³χ(κ)"}},
            "text": {"field": "t"}
          }
        }
      ]
    },
    {
      "width": 292, "height": 438,
      "resolve": {"scale": {"color": "independent"}},
      "layer": [
        {
          "data": {"name": "se"},
          "mark": {"type": "line", "strokeWidth": 2, "interpolate": "monotone"},
          "encoding": {
            "x": {"field": "x", "type": "quantitative", "scale": {"domain": [12650, 12690], "nice": false, "zero": false}, "axis": {"tickCount": 4, "format": "d", "title": "Energy (eV)", "labelOverlap": false}},
            "y": {"field": "y", "type": "quantitative", "scale": {"domain": [0, 4.38], "nice": false, "zero": false}, "axis": {"title": "Normalized Absorbance"}},
            "color": {"field": "s", "type": "nominal", "legend": null, "scale": {"domain": ["HSO3","SO4","Se","SeO3","SeO4","FeSe"], "range": ["#0000ff","#ff0000","#804040","#008080","#808000","#800080"]}}
          }
        },
        {
          "data": {"values": [
            {"s": "FeSe", "t": "Se(-II)", "x": 12657.2},
            {"s": "Se", "t": "Se(0)", "x": 12659.5},
            {"s": "SeO3", "t": "Se(IV)", "x": 12664.0},
            {"s": "SeO4", "t": "Se(VI)", "x": 12666.6}
          ]},
          "mark": {"type": "rule", "strokeDash": [1.5, 2.5], "strokeWidth": 1.5},
          "encoding": {
            "x": {"field": "x", "type": "quantitative", "scale": {"domain": [12650, 12690], "nice": false, "zero": false}},
            "y": {"datum": 0.53, "type": "quantitative", "scale": {"domain": [0, 4.38], "nice": false, "zero": false}},
            "y2": {"datum": 3.92},
            "color": {"field": "s", "type": "nominal", "legend": null, "scale": {"domain": ["Se","FeSe","SeO3","SeO4"], "range": ["#a05050","#8a2be2","#00a0a0","#a0a000"]}}
          }
        },
        {
          "data": {"values": [
            {"s": "FeSe", "t": "Se(-II)", "x": 12657.2},
            {"s": "Se", "t": "Se(0)", "x": 12659.5},
            {"s": "SeO3", "t": "Se(IV)", "x": 12664.0},
            {"s": "SeO4", "t": "Se(VI)", "x": 12666.6}
          ]},
          "mark": {"type": "text", "angle": 270, "align": "left", "baseline": "middle", "fontSize": 15, "font": "Liberation Sans"},
          "encoding": {
            "x": {"field": "x", "type": "quantitative", "scale": {"domain": [12650, 12690], "nice": false, "zero": false}},
            "y": {"datum": 0.07, "type": "quantitative", "scale": {"domain": [0, 4.38], "nice": false, "zero": false}},
            "text": {"field": "t"},
            "color": {"field": "s", "type": "nominal", "legend": null, "scale": {"domain": ["Se","FeSe","SeO3","SeO4"], "range": ["#a0522d","#800080","#008080","#808000"]}}
          }
        },
        {
          "data": {"values": [
            {"s": "HSO3", "t": "w/ HSO₃⁻", "x": 12688.9, "y": 3.48},
            {"s": "SO4", "t": "w/ SO₄²⁻", "x": 12688.9, "y": 2.91}
          ]},
          "mark": {"type": "text", "align": "right", "baseline": "middle", "fontSize": 16, "fontWeight": "bold", "font": "Liberation Sans"},
          "encoding": {
            "x": {"field": "x", "type": "quantitative", "scale": {"domain": [12650, 12690], "nice": false, "zero": false}},
            "y": {"field": "y", "type": "quantitative", "scale": {"domain": [0, 4.38], "nice": false, "zero": false}},
            "text": {"field": "t"},
            "color": {"field": "s", "type": "nominal", "legend": null, "scale": {"domain": ["HSO3","SO4"], "range": ["#0000ff","#ff0000"]}}
          }
        },
        {
          "data": {"values": [
            {"t": "Se(0): Se powder", "x": 12688.9, "y": 2.41},
            {"t": "Se(IV): Na₂SeO₃", "x": 12688.9, "y": 1.88},
            {"t": "Se(VI): Na₂SeO₄", "x": 12688.9, "y": 1.2},
            {"t": "Se(-II): FeSe", "x": 12688.9, "y": 0.53}
          ]},
          "mark": {"type": "text", "align": "right", "baseline": "middle", "fontSize": 16, "fontWeight": "bold", "color": "#000", "font": "Liberation Sans"},
          "encoding": {
            "x": {"field": "x", "type": "quantitative", "scale": {"domain": [12650, 12690], "nice": false, "zero": false}},
            "y": {"field": "y", "type": "quantitative", "scale": {"domain": [0, 4.38], "nice": false, "zero": false}},
            "text": {"field": "t"}
          }
        },
        {
          "data": {"values": [{"t": "(c)", "x": 12650.7, "y": 4.23}]},
          "mark": {"type": "text", "align": "left", "baseline": "middle", "fontSize": 15, "color": "#000", "font": "Liberation Sans"},
          "encoding": {
            "x": {"field": "x", "type": "quantitative", "scale": {"domain": [12650, 12690], "nice": false, "zero": false}},
            "y": {"field": "y", "type": "quantitative", "scale": {"domain": [0, 4.38], "nice": false, "zero": false}},
            "text": {"field": "t"}
          }
        }
      ]
    }
  ]
}
